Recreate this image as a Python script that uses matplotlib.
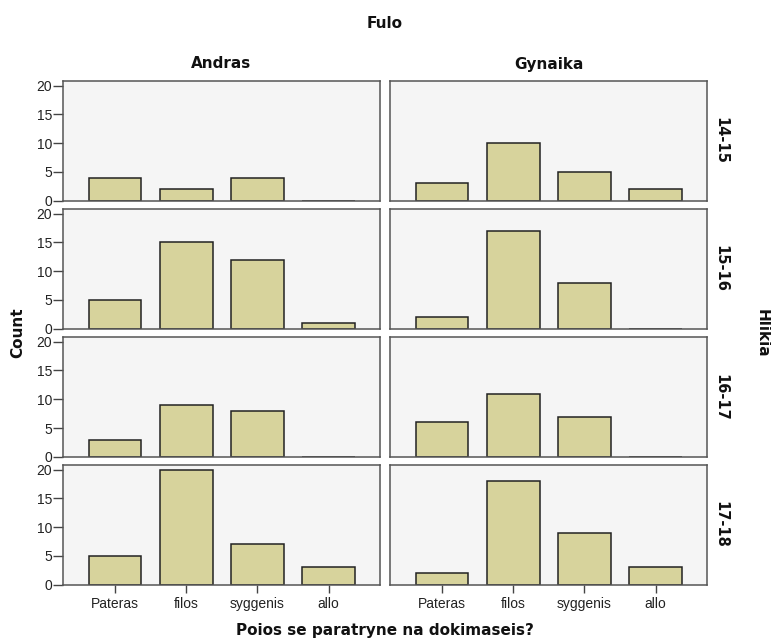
import numpy as np
import matplotlib
matplotlib.use("Agg")
import matplotlib.pyplot as plt

plt.rcParams['font.family'] = ['Liberation Sans', 'DejaVu Sans']

# categories and panel factors
categories = ['Pateras', 'filos', 'syggenis', 'allo']
genders = ['Andras', 'Gynaika']
ages = ['14-15', '15-16', '16-17', '17-18']

# counts per age group (rows) for each gender
andras = [
    [4, 2, 4, 0],
    [5, 15, 12, 1],
    [3, 9, 8, 0],
    [5, 20, 7, 3],
]
gynaika = [
    [3, 10, 5, 2],
    [2, 17, 8, 0],
    [6, 11, 7, 0],
    [2, 18, 9, 3],
]
yticks = [0, 5, 10, 15, 20]

W, H = 771, 641
BAR_COLOR = '#D7D39C'
BG = '#F5F5F5'
BOLD = dict(family=['DejaVu Sans'], fontweight='bold', color='#111111')

fig = plt.figure(figsize=(W / 100, H / 100), dpi=100)

rows_px = [(81, 200.5), (209, 328.5), (337, 457), (465, 584.5)]
cols_px = [(63, 380), (390, 707)]
data = [andras, gynaika]


def px_axes(x0, y0, x1, y1):
    return fig.add_axes([x0 / W, (H - y1) / H, (x1 - x0) / W, (y1 - y0) / H])


x = np.arange(len(categories))
for r, (y0, y1) in enumerate(rows_px):
    for c, (x0, x1) in enumerate(cols_px):
        ax = px_axes(x0, y0, x1, y1)
        ax.set_facecolor(BG)
        ax.bar(x, data[c][r], width=0.74, color=BAR_COLOR,
               edgecolor='#222222', linewidth=1.1, zorder=2)
        ax.set_xlim(-0.73, 3.72)
        ax.set_ylim(0, 20.8)
        for s in ax.spines.values():
            s.set_color('#555555')
            s.set_linewidth(1.1)
        if c == 0:
            ax.set_yticks(yticks)
            ax.set_yticklabels([str(t) for t in yticks], fontsize=10, color='#222222')
            ax.tick_params(axis='y', length=7, width=1, color='#444444', pad=1)
        else:
            ax.set_yticks([])
        if r == len(rows_px) - 1:
            ax.set_xticks(x)
            ax.set_xticklabels(categories, fontsize=10, color='#222222')
            ax.tick_params(axis='x', length=6, width=1, color='#444444', pad=3)
        else:
            ax.set_xticks([])
        if r == 0:
            ax.set_title(genders[c], fontsize=11, pad=9, **BOLD)
        if c == 1:
            ax.text(1.02, 0.5, ages[r], transform=ax.transAxes, rotation=-90,
                    ha='left', va='center', fontsize=10.5, **BOLD)

fig.text(385 / W, 1 - 24 / H, 'Fulo', ha='center', va='center',
         fontsize=11, **BOLD)
fig.text(18 / W, 1 - 333 / H, 'Count', ha='center', va='center', rotation=90,
         fontsize=11, **BOLD)
fig.text(762 / W, 1 - 333 / H, 'Hlikia', ha='center', va='center', rotation=-90,
         fontsize=11, **BOLD)
fig.text(385 / W, 1 - 631 / H, 'Poios se paratryne na dokimaseis?', ha='center',
         va='center', fontsize=11, **BOLD)

fig.savefig('out.png', dpi=100, facecolor='white')
